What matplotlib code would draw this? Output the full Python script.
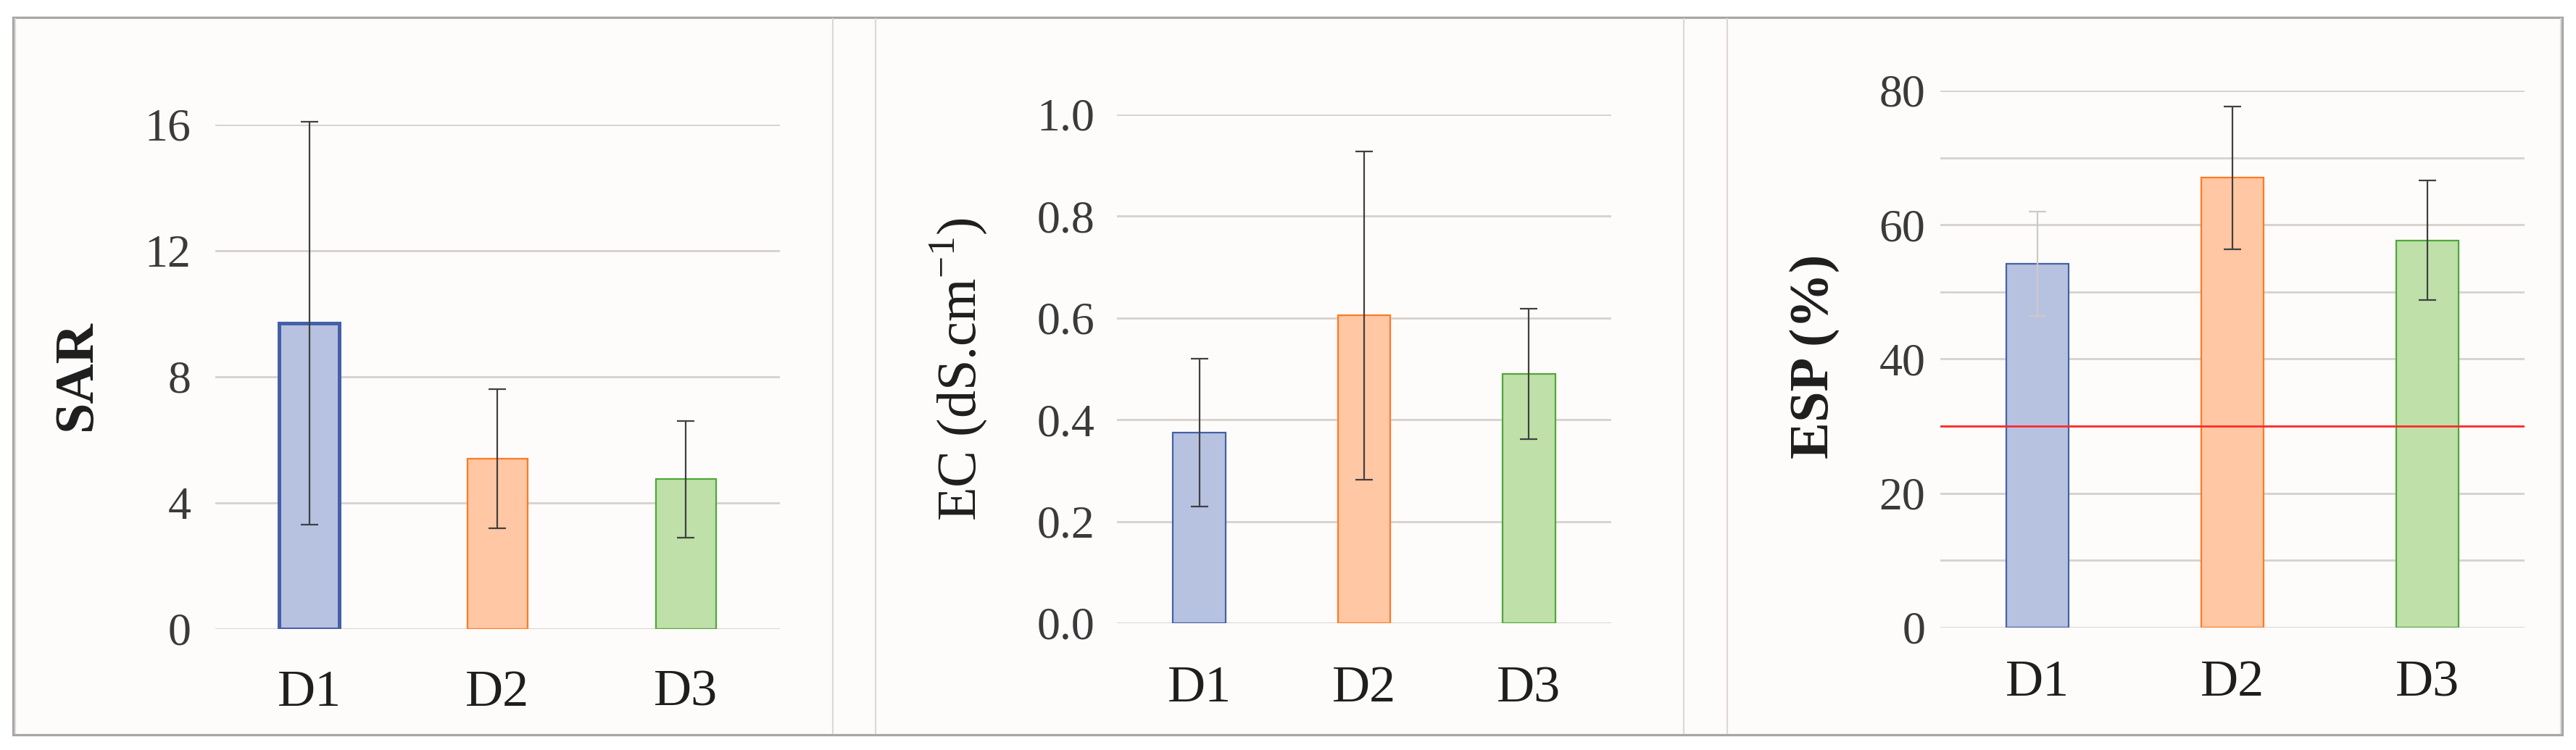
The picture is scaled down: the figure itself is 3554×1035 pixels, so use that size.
import matplotlib
matplotlib.use("Agg")
import matplotlib.pyplot as plt
from matplotlib.patches import Rectangle
from matplotlib.lines import Line2D
from matplotlib.ticker import MultipleLocator

plt.rcParams['font.family'] = ['Liberation Serif', 'DejaVu Serif']
plt.rcParams['mathtext.fontset'] = 'custom'
plt.rcParams['mathtext.rm'] = 'Liberation Serif'

# ---------------- data ----------------
categories = ["D1", "D2", "D3"]

sar_values = [9.7, 5.4, 4.75]
sar_errors = [6.4, 2.2, 1.85]

ec_values = [0.375, 0.605, 0.49]
ec_errors = [0.145, 0.323, 0.128]

esp_values = [54.2, 67.0, 57.7]
esp_errors = [7.8, 10.6, 8.9]
esp_threshold = 30

# ---------------- style ----------------
W, H = 3555, 1035
DPI = 100
fill_colors = ["#B7C2E0", "#FFC7A3", "#BFE0A8"]
edge_colors = ["#4460A8", "#FF7A24", "#4EA83A"]
grid_color = "#D8D3D0"
txt_color = "#3A3A3A"
bg = "#FDFCFB"

fig = plt.figure(figsize=(W / DPI, H / DPI), dpi=DPI)
fig.patch.set_facecolor("white")


def fx(px):
    return px / W


def fy(py):
    return 1 - py / H


# outer frame and panel backgrounds
fig.add_artist(Rectangle((fx(18), fy(1014)), fx(3535) - fx(18), fy(24.5) - fy(1014),
                         transform=fig.transFigure, facecolor=bg, edgecolor="#A6A6A6",
                         linewidth=2.3, zorder=0))
for xp in [21, 1149, 1208, 2323, 2383, 3533]:
    fig.add_artist(Line2D([fx(xp), fx(xp)], [fy(26), fy(1012)], transform=fig.transFigure,
                          color="#DDD8D5", linewidth=1.6, zorder=1))


def panel(rect, values, errors, ylim, major, minor, tick_fmt, ylabel, ylabel_pos,
          ylabel_weight, ytick_pad, xtick_pad, edge_widths, err_colors):
    ax = fig.add_axes(rect)
    ax.set_facecolor(bg)
    x = list(range(len(categories)))
    ax.bar(x, values, width=0.32, color=fill_colors, edgecolor=edge_colors,
           linewidth=edge_widths, zorder=3)
    for xi, v, e, c in zip(x, values, errors, err_colors):
        ax.errorbar([xi], [v], yerr=[e], fmt="none", ecolor=c, elinewidth=1.6,
                    capsize=8.5, capthick=1.6, zorder=4, clip_on=False)
    ax.set_xlim(-0.5, len(categories) - 0.5)
    ax.set_ylim(*ylim)
    ax.yaxis.set_major_locator(MultipleLocator(major))
    if minor:
        ax.yaxis.set_minor_locator(MultipleLocator(minor))
        ax.grid(True, which="minor", axis="y", color=grid_color, linewidth=2.1, zorder=0)
    ax.grid(True, which="major", axis="y", color=grid_color, linewidth=2.1, zorder=0)
    ax.set_axisbelow(True)
    ax.yaxis.set_major_formatter(tick_fmt)
    ax.set_xticks(x)
    ax.set_xticklabels(categories)
    ax.tick_params(axis="y", which="both", length=0, labelsize=46, pad=ytick_pad,
                   labelcolor=txt_color)
    ax.tick_params(axis="x", length=0, labelsize=52, pad=xtick_pad, labelcolor="#1E1E1E")
    for s in ax.spines.values():
        s.set_visible(False)
    ax.text(ylabel_pos[0], ylabel_pos[1], ylabel, transform=ax.transAxes, rotation=90,
            ha="center", va="center", fontsize=55, color="#1E1E1E",
            fontweight=ylabel_weight)
    return ax


# Panel 1: SAR
panel([fx(297), fy(868), fx(1076) - fx(297), fy(172) - fy(868)],
      sar_values, sar_errors, (0, 16), 4, None, "{x:g}", "SAR",
      (-0.244, 0.503), "bold", 24, 40,
      [3.6, 1.6, 1.6], ["#404040", "#404040", "#404040"])

# Panel 2: EC
panel([fx(1541), fy(860), fx(2223) - fx(1541), fy(158) - fy(860)],
      ec_values, ec_errors, (0, 1.0), 0.2, None, "{x:.1f}",
      r"EC (dS.cm$^{\mathregular{-1}}$)", (-0.321, 0.499), "normal", 22, 42,
      [1.6, 1.6, 1.6], ["#404040", "#404040", "#404040"])

# Panel 3: ESP
ax3 = panel([fx(2677), fy(866), fx(3483) - fx(2677), fy(125) - fy(866)],
            esp_values, esp_errors, (0, 80), 20, 10, "{x:g}", "ESP (%)",
            (-0.216, 0.505), "bold", 15, 32,
            [1.6, 1.6, 1.6], ["#CFC8C8", "#404040", "#404040"])
ax3.axhline(esp_threshold, color="#FF2A2A", linewidth=2.0, zorder=5)

fig.savefig("out.png", dpi=DPI, facecolor="white")
